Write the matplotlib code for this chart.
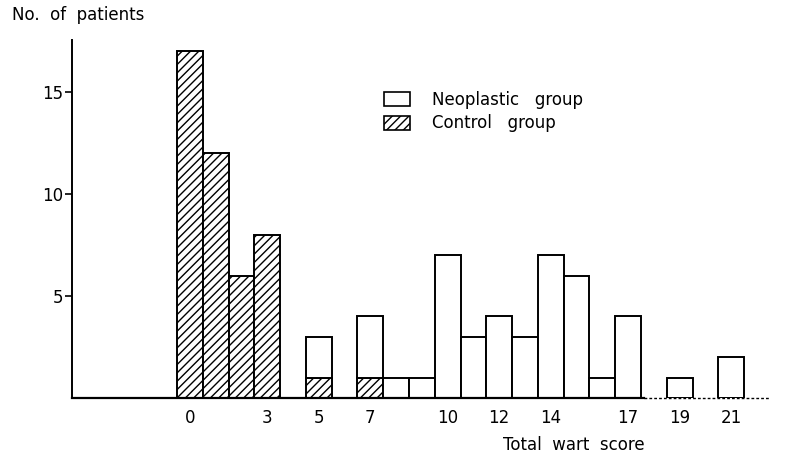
import numpy as np
import matplotlib.pyplot as plt
from matplotlib.patches import Patch

# total wart score 0..21
scores = np.arange(0, 22)
control = [17, 12, 6, 8, 0, 1, 0, 1, 0, 0, 0, 0, 0, 0, 0, 0, 0, 0, 0, 0, 0, 0]
neoplastic = [0, 0, 0, 0, 0, 2, 0, 3, 1, 1, 7, 3, 4, 3, 7, 6, 1, 4, 0, 1, 0, 2]
xtick_vals = [0, 3, 5, 7, 10, 12, 14, 17, 19, 21]
ytick_vals = [5, 10, 15]

plt.rcParams['font.family'] = ['DejaVu Sans']
plt.rcParams['hatch.linewidth'] = 1.0

fig = plt.figure(figsize=(7.86, 4.58), dpi=100)
ax = fig.add_axes([0.0916, 0.131, 0.888, 0.782])

control = np.array(control)
neoplastic = np.array(neoplastic)

m = control > 0
ax.bar(scores[m], control[m], width=1.0, color='white', edgecolor='black',
       hatch='////', linewidth=1.4, label='Control  group')
n = neoplastic > 0
ax.bar(scores[n], neoplastic[n], bottom=control[n], width=1.0, color='white',
       edgecolor='black', linewidth=1.4, label='Neoplastic  group')

ax.set_xlim(-4.57, 22.5)
ax.set_ylim(0, 17.55)

for s in ['top', 'right', 'bottom']:
    ax.spines[s].set_visible(False)
ax.spines['left'].set_linewidth(1.4)
# baseline: solid, fading to dotted at the right end
ax.axhline(0, xmin=0, xmax=0.82, color='black', linewidth=1.6, clip_on=False)
ax.axhline(0, xmin=0.82, xmax=1.0, color='black', linewidth=1.0,
           linestyle=(0, (2, 1.5)), clip_on=False)

ax.set_yticks(ytick_vals)
ax.set_yticklabels([str(v) for v in ytick_vals], fontsize=12)
ax.tick_params(axis='y', direction='out', length=5, width=1.2, pad=1)
ax.set_xticks(xtick_vals)
ax.set_xticklabels([str(v) for v in xtick_vals], fontsize=12)
ax.tick_params(axis='x', length=0, pad=8)

ax.text(-6.9, 18.77, 'No.  of  patients', fontsize=12, ha='left', va='center',
        clip_on=False)
ax.text(14.9, -2.3, 'Total  wart  score', fontsize=12, ha='center', va='center',
        clip_on=False)

handles = [Patch(facecolor='white', edgecolor='black', linewidth=1.2),
           Patch(facecolor='white', edgecolor='black', hatch='////', linewidth=1.2)]
ax.legend(handles, ['Neoplastic   group', 'Control   group'], loc='upper left',
          bbox_to_anchor=(0.425, 0.9), frameon=False, fontsize=12,
          handlelength=1.6, handleheight=0.9, handletextpad=1.3, labelspacing=0.35)

fig.savefig('out.png', dpi=100)
